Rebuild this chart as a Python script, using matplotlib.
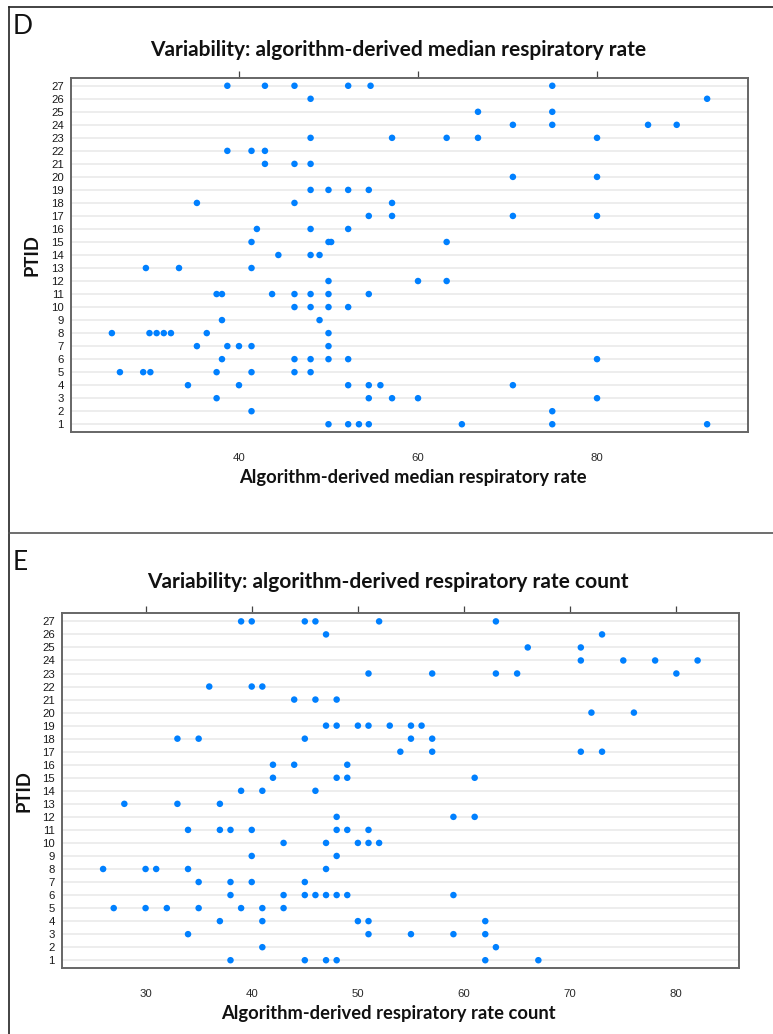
import numpy as np
import matplotlib
matplotlib.use("Agg")
import matplotlib.pyplot as plt
from matplotlib.lines import Line2D

# Panel D: algorithm-derived median respiratory rate per PTID
median_rr = {
    27: [38.7, 42.9, 46.2, 52.2, 54.7, 75.0],
    26: [48.0, 92.3],
    25: [66.7, 75.0],
    24: [70.6, 75.0, 85.7, 88.9],
    23: [48.0, 57.1, 63.2, 66.7, 80.0],
    22: [38.7, 41.4, 42.9],
    21: [42.9, 46.2, 48.0],
    20: [70.6, 80.0],
    19: [48.0, 50.0, 52.2, 54.5],
    18: [35.3, 46.2, 57.1],
    17: [54.5, 57.1, 70.6, 80.0],
    16: [42.0, 48.0, 52.2],
    15: [41.4, 50.0, 50.3, 63.2],
    14: [44.4, 48.0, 49.0],
    13: [29.6, 33.3, 41.4],
    12: [50.0, 60.0, 63.2],
    11: [37.5, 38.1, 43.7, 46.2, 48.0, 50.0, 54.5],
    10: [46.2, 48.0, 50.0, 52.2],
    9: [38.1, 49.0],
    8: [25.8, 30.0, 30.8, 31.6, 32.4, 36.4, 50.0],
    7: [35.3, 38.7, 40.0, 41.4, 50.0],
    6: [38.1, 46.2, 48.0, 50.0, 52.2, 80.0],
    5: [26.7, 29.3, 30.1, 37.5, 41.4, 46.2, 48.0],
    4: [34.3, 40.0, 52.2, 54.5, 55.8, 70.6],
    3: [37.5, 54.5, 57.1, 60.0, 80.0],
    2: [41.4, 75.0],
    1: [50.0, 52.2, 53.4, 54.5, 64.9, 75.0, 92.3],
}

# Panel E: algorithm-derived respiratory rate count per PTID
count_rr = {
    27: [39, 40, 45, 46, 52, 63],
    26: [47, 73],
    25: [66, 71],
    24: [71, 75, 78, 82],
    23: [51, 57, 63, 65, 80],
    22: [36, 40, 41],
    21: [44, 46, 48],
    20: [72, 76],
    19: [47, 48, 50, 51, 53, 55, 56],
    18: [33, 35, 45, 55, 57],
    17: [54, 57, 71, 73],
    16: [42, 44, 49],
    15: [42, 48, 49, 61],
    14: [39, 41, 46],
    13: [28, 33, 37],
    12: [48, 59, 61],
    11: [34, 37, 38, 40, 48, 49, 51],
    10: [43, 47, 50, 51, 52],
    9: [40, 48],
    8: [26, 30, 31, 34, 47],
    7: [35, 38, 40, 45],
    6: [38, 43, 45, 46, 47, 48, 49, 59],
    5: [27, 30, 32, 35, 39, 41, 43],
    4: [37, 41, 50, 51, 62],
    3: [34, 51, 55, 59, 62],
    2: [41, 63],
    1: [38, 45, 47, 48, 62, 67],
}

ptids = list(range(1, 28))
d_ticks = [40, 60, 80]
e_ticks = [30, 40, 50, 60, 70, 80]

W, H = 773, 1034
fig = plt.figure(figsize=(W / 100, H / 100), dpi=100)

DOT = "#0080ff"
FRAME = "#666666"
TITLE_FONT = "Lato"
TICK_FONT = "Liberation Sans"


def px_rect(left, top, right, bottom):
    return [left / W, 1 - bottom / H, (right - left) / W, (bottom - top) / H]


def dotplot(ax, data, xlim, ticks, xlabel, xlab_x, ylab_x):
    for p in ptids:
        ax.axhline(p, color="#e8e8e8", lw=1.1, zorder=1)
    xs = [v for p in ptids for v in data[p]]
    ys = [p for p in ptids for v in data[p]]
    ax.scatter(xs, ys, s=22, color=DOT, edgecolors="none", zorder=3)
    ax.set_xlim(*xlim)
    ax.set_ylim(0.38, 27.62)
    ax.set_yticks(ptids)
    ax.set_yticklabels([str(p) for p in ptids], fontsize=8.2,
                       family=TICK_FONT, color="#1a1a1a")
    ax.set_xticks(ticks)
    ax.set_xticklabels([str(t) for t in ticks], fontsize=8.2,
                       family=TICK_FONT, color="#2a2a2a")
    ax.tick_params(axis="y", length=0, pad=5)
    ax.tick_params(axis="x", top=True, bottom=False, labeltop=False,
                   labelbottom=True, direction="out", length=5,
                   width=0.9, color="#444444", pad=10)
    for s in ax.spines.values():
        s.set_color(FRAME)
        s.set_linewidth(1.4)
    ax.set_xlabel(xlabel, fontsize=13.2, family=TITLE_FONT, weight="bold",
                  color="#111111")
    ax.xaxis.set_label_coords(xlab_x, -0.128)
    ax.xaxis.label.set_va("center")
    ax.set_ylabel("PTID", fontsize=13.2, family=TITLE_FONT, weight="bold",
                  color="#111111")
    ax.yaxis.set_label_coords(ylab_x, 0.5)
    ax.yaxis.label.set_va("center")


ax_d = fig.add_axes(px_rect(70.7, 77.7, 748.3, 432.3))
dotplot(ax_d, median_rr, (21.2, 96.9), d_ticks,
        "Algorithm-derived median respiratory rate", 0.505, -0.057)

ax_e = fig.add_axes(px_rect(61.7, 613.3, 739.0, 968.3))
dotplot(ax_e, count_rr, (22.1, 85.9), e_ticks,
        "Algorithm-derived respiratory rate count", 0.482, -0.056)

fig.text(398 / W, 1 - 50 / H,
         "Variability: algorithm-derived median respiratory rate",
         ha="center", va="center", fontsize=15, family=TITLE_FONT,
         weight="bold", color="#111111")
fig.text(388 / W, 1 - 582 / H,
         "Variability: algorithm-derived respiratory rate count",
         ha="center", va="center", fontsize=15, family=TITLE_FONT,
         weight="bold", color="#111111")

fig.text(13 / W, 1 - 26 / H, "D", ha="left", va="center", fontsize=19,
         family=TITLE_FONT, color="#111111")
fig.text(13 / W, 1 - 563 / H, "E", ha="left", va="center", fontsize=19,
         family=TITLE_FONT, color="#111111")

# panel borders
fig.add_artist(Line2D([9 / W, 1], [1 - 7 / H, 1 - 7 / H],
                      color="#222222", lw=1.2))
fig.add_artist(Line2D([9 / W, 9 / W], [0, 1 - 7 / H],
                      color="#222222", lw=1.2))
fig.add_artist(Line2D([9 / W, 1], [1 - 533 / H, 1 - 533 / H],
                      color="#555555", lw=1.2))

fig.savefig("out.png", dpi=100)
